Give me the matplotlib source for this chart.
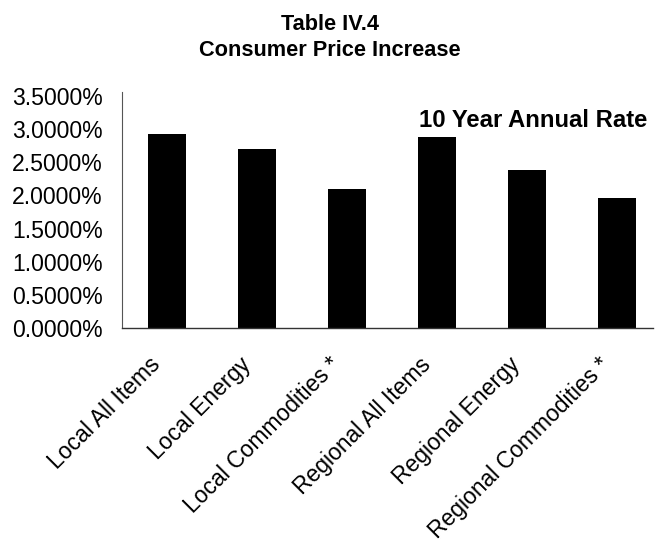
import matplotlib
matplotlib.use('Agg')
import matplotlib.pyplot as plt
from matplotlib.ticker import FuncFormatter
from matplotlib.transforms import ScaledTranslation

plt.rcParams['font.family'] = ['Liberation Sans', 'DejaVu Sans']

# Dados
categorias = ['Local All Items', 'Local Energy', 'Local Commodities *',
              'Regional All Items', 'Regional Energy', 'Regional Commodities *']
taxas = [2.93, 2.70, 2.09, 2.88, 2.39, 1.96]
yticks = [0.0, 0.5, 1.0, 1.5, 2.0, 2.5, 3.0, 3.5]

fig = plt.figure(figsize=(6.56, 5.42), dpi=100)
ax = fig.add_axes([0.186, 0.395, 0.809, 0.435])

x = list(range(len(categorias)))
ax.bar(x, taxas, width=0.42, color='black')

ax.set_xlim(-0.5, 5.4)
ax.set_ylim(0, 3.56)
ax.set_yticks(yticks)
ax.yaxis.set_major_formatter(FuncFormatter(lambda v, p: f'{v:.4f}%'))
ax.tick_params(axis='y', length=0, pad=14, labelsize=16.6)
ax.tick_params(axis='x', length=0, pad=6)
ax.set_xticks(x)
ax.set_xticklabels(categorias, rotation=45, ha='right', rotation_mode='anchor',
                   fontsize=16.5)

# deslocar rótulos para baixo/esquerda
desloc = ScaledTranslation(-0.18, -0.17, fig.dpi_scale_trans)
for lbl in ax.get_xticklabels():
    lbl.set_transform(lbl.get_transform() + desloc)

for s in ['top', 'right']:
    ax.spines[s].set_visible(False)
ax.spines['left'].set_color('#555555')
ax.spines['left'].set_linewidth(0.8)
ax.spines['bottom'].set_color('#333333')
ax.spines['bottom'].set_linewidth(1.0)

ax.text(0.99, 0.88, '10 Year Annual Rate', transform=ax.transAxes,
        ha='right', va='center', fontsize=17.2, fontweight='bold')

fig.text(0.503, 1 - 24/542, 'Table IV.4', ha='center', va='center',
         fontsize=15.7, fontweight='bold')
fig.text(0.503, 1 - 51/542, 'Consumer Price Increase', ha='center', va='center',
         fontsize=15.7, fontweight='bold')

plt.savefig('out.png', dpi=100)
